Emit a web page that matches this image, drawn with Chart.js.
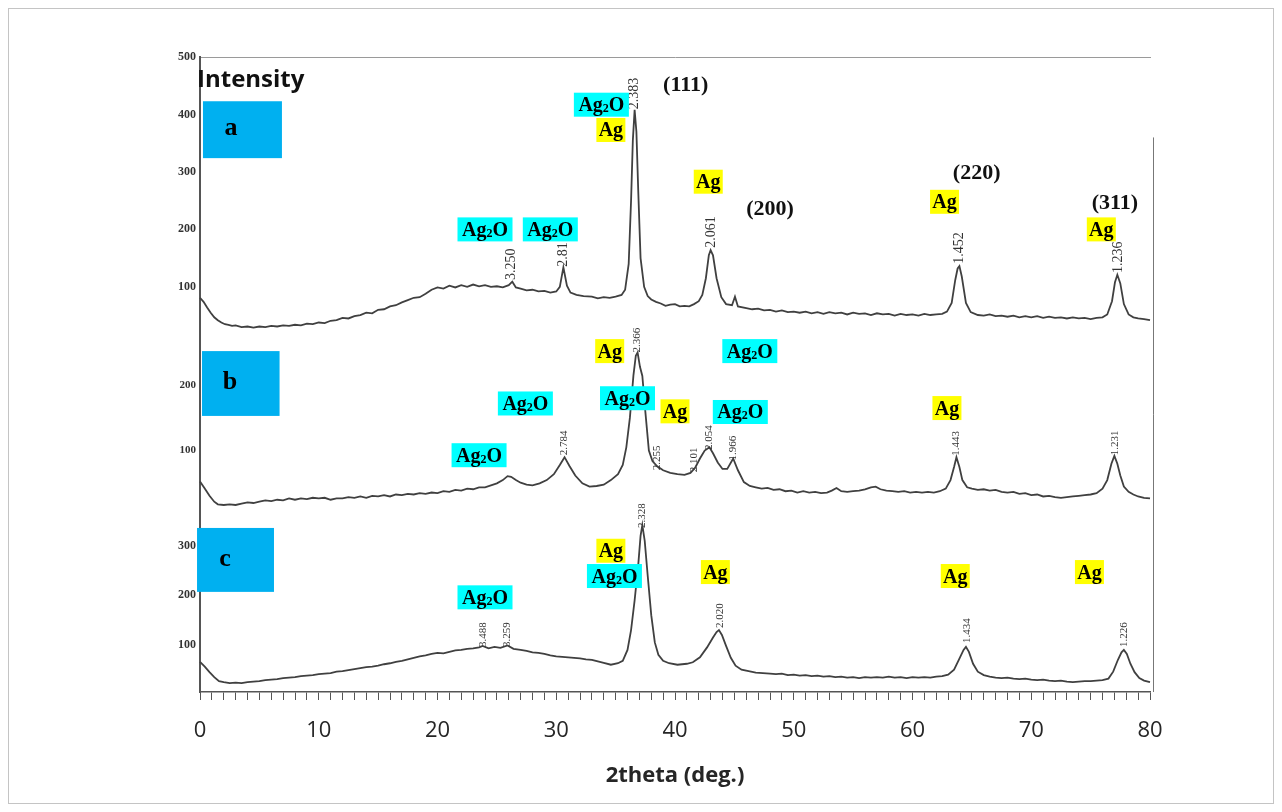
<!DOCTYPE html>
<html>
<head>
<meta charset="utf-8">
<title>XRD patterns a, b, c</title>
<script src="https://cdn.jsdelivr.net/npm/chart.js@4.4.1/dist/chart.umd.min.js"></script>
<style>
  html, body { margin: 0; padding: 0; background: #fff; }
  #wrap { position: relative; width: 1282px; height: 812px; }
</style>
</head>
<body>
<div id="wrap"><canvas id="xrd" width="1282" height="812"></canvas></div>
<script>
// [2theta, counts]
const aPattern = [[0, 81], [0.3, 74], [0.6, 64], [0.9, 55], [1.2, 47], [1.5, 42], [1.8, 38], [2.1, 35], [2.4, 34], [2.7, 32], [3, 33], [3.5, 30], [4, 31], [4.5, 29], [5, 31], [5.5, 30], [6, 32], [6.5, 31], [7, 33], [7.5, 32], [8, 34], [8.5, 33], [9, 36], [9.5, 35], [10, 38], [10.5, 37], [11, 41], [11.5, 42], [12, 46], [12.5, 45], [13, 49], [13.5, 51], [14, 55], [14.5, 54], [15, 60], [15.5, 61], [16, 66], [16.5, 68], [17, 73], [17.5, 77], [18, 81], [18.5, 82], [19, 88], [19.5, 95], [20, 99], [20.5, 97], [21, 102], [21.5, 99], [22, 103], [22.5, 100], [23, 104], [23.5, 101], [24, 103], [24.5, 100], [25, 101], [25.5, 99], [26, 103], [26.3, 109], [26.6, 99], [27, 97], [27.5, 94], [28, 95], [28.5, 92], [29, 93], [29.5, 90], [30, 92], [30.3, 100], [30.6, 134], [30.9, 102], [31.2, 90], [31.7, 86], [32.3, 84], [33, 83], [33.5, 80], [34, 82], [34.5, 81], [35, 83], [35.5, 86], [35.8, 95], [36.1, 140], [36.3, 250], [36.45, 355], [36.6, 408], [36.75, 370], [36.9, 270], [37.1, 150], [37.4, 100], [37.7, 84], [38, 78], [38.4, 74], [38.8, 71], [39.2, 67], [39.6, 69], [40, 70], [40.4, 66], [40.8, 67], [41.2, 66], [41.6, 70], [42, 75], [42.3, 86], [42.6, 115], [42.85, 155], [43.0, 164], [43.2, 155], [43.5, 115], [43.9, 82], [44.3, 70], [44.8, 68], [45.05, 83], [45.3, 66], [46, 63], [46.5, 61], [47, 62], [47.5, 59], [48, 60], [48.5, 57], [49, 59], [49.5, 56], [50, 57], [50.5, 55], [51, 57], [51.5, 54], [52, 56], [52.5, 53], [53, 56], [53.5, 54], [54, 55], [54.5, 52], [55, 55], [55.5, 53], [56, 54], [56.5, 51], [57, 54], [57.5, 52], [58, 53], [58.5, 50], [59, 53], [59.5, 51], [60, 52], [60.5, 50], [61, 53], [61.5, 51], [62, 52], [62.5, 53], [62.9, 57], [63.3, 72], [63.6, 112], [63.8, 132], [63.95, 136], [64.15, 118], [64.5, 72], [64.9, 56], [65.5, 51], [66, 50], [66.5, 52], [67, 49], [67.5, 50], [68, 48], [68.5, 50], [69, 47], [69.5, 49], [70, 47], [70.5, 49], [71, 46], [71.5, 48], [72, 46], [72.5, 47], [73, 45], [73.5, 47], [74, 45], [74.5, 46], [75, 44], [75.5, 46], [76, 47], [76.4, 52], [76.8, 75], [77.05, 108], [77.25, 121], [77.5, 106], [77.8, 70], [78.2, 52], [78.6, 47], [79, 45], [79.5, 44], [80, 42]];

const bPattern = [[0, 53], [0.4, 42], [0.8, 31], [1.2, 22], [1.5, 18], [2, 17], [2.5, 18], [3, 17], [3.5, 19], [4, 21], [4.5, 20], [5, 22], [5.5, 24], [6, 23], [6.5, 25], [7, 24], [7.5, 27], [8, 25], [8.5, 27], [9, 26], [9.5, 28], [10, 27], [10.5, 28], [11, 25], [11.5, 27], [12, 27], [12.5, 29], [13, 28], [13.5, 30], [14, 28], [14.5, 31], [15, 30], [15.5, 32], [16, 30], [16.5, 33], [17, 32], [17.5, 34], [18, 33], [18.5, 35], [19, 34], [19.5, 36], [20, 35], [20.5, 38], [21, 37], [21.5, 40], [22, 39], [22.5, 42], [23, 41], [23.5, 44], [24, 44], [24.5, 47], [25, 50], [25.5, 55], [25.9, 61], [26.2, 60], [26.6, 55], [27, 51], [27.5, 48], [28, 47], [28.6, 50], [29.2, 55], [29.8, 64], [30.3, 78], [30.7, 90], [31.1, 77], [31.6, 62], [32.2, 50], [32.8, 45], [33.4, 46], [34, 48], [34.6, 55], [35.2, 64], [35.6, 78], [35.9, 105], [36.2, 150], [36.5, 215], [36.7, 245], [36.85, 250], [37.05, 228], [37.25, 214], [37.5, 160], [37.8, 100], [38.1, 84], [38.5, 76], [39, 70], [39.6, 66], [40.2, 64], [40.8, 63], [41.3, 66], [41.7, 74], [42.1, 88], [42.5, 100], [42.9, 105], [43.2, 96], [43.6, 82], [44.0, 72], [44.4, 72], [44.9, 88], [45.3, 70], [45.8, 52], [46.3, 46], [46.8, 44], [47.3, 42], [47.8, 43], [48.3, 40], [48.8, 41], [49.3, 38], [49.8, 39], [50.3, 36], [50.8, 38], [51.3, 36], [51.8, 37], [52.3, 35], [52.8, 36], [53.2, 39], [53.6, 43], [54, 38], [54.5, 37], [55, 38], [55.5, 39], [56, 41], [56.5, 44], [56.9, 45], [57.3, 41], [57.8, 39], [58.3, 38], [58.8, 37], [59.3, 38], [59.8, 36], [60.3, 37], [60.8, 36], [61.3, 37], [61.8, 36], [62.3, 38], [62.8, 42], [63.2, 55], [63.5, 75], [63.7, 90], [63.95, 75], [64.2, 55], [64.6, 44], [65, 42], [65.5, 40], [66, 41], [66.5, 39], [67, 40], [67.5, 37], [68, 36], [68.5, 37], [69, 34], [69.5, 35], [70, 32], [70.5, 33], [71, 30], [71.5, 31], [72, 29], [72.5, 28], [73, 29], [73.5, 30], [74, 31], [74.5, 32], [75, 33], [75.5, 35], [76, 42], [76.4, 55], [76.75, 80], [77.0, 92], [77.25, 80], [77.5, 62], [77.8, 45], [78.2, 37], [78.6, 33], [79, 30], [79.5, 28], [80, 27]];

const cPattern = [[0, 66], [0.4, 56], [0.8, 45], [1.2, 35], [1.6, 27], [2, 25], [2.5, 23], [3, 24], [3.5, 23], [4, 25], [4.5, 26], [5, 27], [5.5, 29], [6, 30], [6.5, 31], [7, 33], [7.5, 34], [8, 35], [8.5, 37], [9, 38], [9.5, 39], [10, 41], [10.5, 42], [11, 43], [11.5, 46], [12, 47], [12.5, 49], [13, 51], [13.5, 53], [14, 55], [14.5, 56], [15, 58], [15.5, 61], [16, 63], [16.5, 66], [17, 68], [17.5, 71], [18, 74], [18.5, 77], [19, 79], [19.5, 82], [20, 84], [20.5, 83], [21, 86], [21.5, 89], [22, 90], [22.5, 92], [23, 93], [23.5, 95], [23.8, 98], [24.3, 93], [24.8, 96], [25.3, 94], [25.9, 99], [26.4, 92], [27, 90], [27.5, 88], [28, 85], [28.5, 84], [29, 82], [29.5, 79], [30, 77], [30.5, 76], [31, 75], [31.5, 74], [32, 73], [32.5, 71], [33, 70], [33.5, 67], [34, 64], [34.6, 60], [35.2, 63], [35.6, 68], [36.0, 90], [36.3, 130], [36.6, 190], [36.9, 260], [37.1, 320], [37.25, 342], [37.45, 310], [37.7, 240], [38.0, 160], [38.3, 105], [38.6, 80], [39.0, 68], [39.5, 63], [40.2, 60], [41, 62], [41.5, 65], [42.1, 75], [42.7, 95], [43.2, 115], [43.5, 126], [43.7, 130], [43.95, 120], [44.3, 98], [44.7, 74], [45.1, 58], [45.6, 50], [46.2, 47], [46.8, 44], [47.4, 43], [48, 42], [48.5, 41], [49, 42], [49.5, 39], [50, 40], [50.5, 38], [51, 39], [51.5, 37], [52, 38], [52.5, 36], [53, 37], [53.5, 35], [54, 36], [54.5, 34], [55, 35], [55.5, 33], [56, 35], [56.5, 34], [57, 35], [57.5, 34], [58, 36], [58.5, 34], [59, 35], [59.5, 33], [60, 35], [60.5, 34], [61, 35], [61.5, 34], [62, 36], [62.5, 37], [63, 40], [63.5, 50], [63.9, 70], [64.3, 90], [64.5, 96], [64.75, 86], [65.1, 62], [65.5, 46], [66, 39], [66.5, 36], [67, 34], [67.5, 33], [68, 34], [68.5, 32], [69, 31], [69.5, 32], [70, 30], [70.5, 29], [71, 30], [71.5, 28], [72, 27], [72.5, 28], [73, 26], [73.5, 25], [74, 26], [74.5, 27], [75, 27], [75.5, 28], [76, 29], [76.5, 32], [76.9, 46], [77.3, 70], [77.6, 85], [77.8, 90], [78.05, 82], [78.35, 62], [78.7, 45], [79.1, 33], [79.5, 28], [80, 25]];

// axis ticks / ranges
const aTicks = [100, 200, 300, 400, 500];
const bTicks = [100, 200];
const cTicks = [100, 200, 300];
const xLabelStep = 10;

// phase markers: [text, 2theta, counts]
const aPhases = [['Ag2O', 24.0, 200], ['Ag2O', 29.5, 200], ['Ag2O', 33.8, 417], ['Ag', 34.6, 373], ['Ag', 42.8, 283], ['Ag', 62.7, 248], ['Ag', 75.9, 200]];
const bPhases = [['Ag2O', 27.4, 172], ['Ag2O', 23.5, 93], ['Ag', 34.5, 252], ['Ag2O', 36.0, 180], ['Ag', 40.0, 160], ['Ag2O', 46.3, 252], ['Ag2O', 45.5, 159], ['Ag', 62.9, 165]];
const cPhases = [['Ag2O', 24.0, 196], ['Ag', 34.6, 290], ['Ag2O', 34.9, 239], ['Ag', 43.4, 247], ['Ag', 63.6, 239], ['Ag', 74.9, 247]];

// Miller indices (pattern a)
const hkl = [['(111)', 40.9, 451], ['(200)', 48.0, 235], ['(220)', 65.4, 297], ['(311)', 77.05, 245]];

// d-spacings written at peaks: [text, 2theta, counts at foot of text]
const aSpacings = [['3.250', 26.2, 112], ['2.81', 30.6, 135], ['2.383', 36.6, 409], ['2.061', 43.1, 168], ['1.452', 63.96, 140], ['1.236', 77.3, 124]];
const bSpacings = [['2.784', 30.7, 93], ['2.366', 36.8, 250], ['2.255', 38.5, 70], ['2.101', 41.6, 67], ['2.054', 42.9, 101], ['1.966', 44.9, 85], ['1.443', 63.7, 92], ['1.231', 77.1, 93]];
const cSpacings = [['3.488', 23.8, 96], ['3.259', 25.9, 96], ['2.328', 37.2, 336], ['2.020', 43.8, 134], ['1.434', 64.6, 104], ['1.226', 77.8, 96]];

// sample tags: [letter, x0, x1, topCounts, bottomCounts]
const tagA = ['a', 0.25, 6.9, 423, 324];
const tagB = ['b', 0.17, 6.7, 252, 153];
const tagC = ['c', -0.25, 6.23, 336, 207];

const SERIF = '"Liberation Serif", "DejaVu Serif", serif';
const SANS = '"Open Sans", "Noto Sans", sans-serif';

function toPoints(pairs) {
  return pairs.map(([x, y]) => ({ x: x, y: y }));
}

function drawPhase(ctx, text, cx, cy) {
  const oxide = text === 'Ag2O';
  const w = oxide ? 55 : 29, h = 24;
  ctx.fillStyle = oxide ? '#00FFFF' : '#FFFF00';
  ctx.fillRect(cx - w / 2, cy - h / 2, w, h);
  ctx.fillStyle = '#000';
  ctx.textBaseline = 'alphabetic';
  ctx.textAlign = 'left';
  const base = cy + 6.5;
  const big = 'bold 20px ' + SERIF;
  const small = 'bold 12px ' + SERIF;
  if (oxide) {
    ctx.font = big;
    const wAg = ctx.measureText('Ag').width;
    const wO = ctx.measureText('O').width;
    ctx.font = small;
    const w2 = ctx.measureText('2').width;
    let x = cx - (wAg + w2 + wO) / 2;
    ctx.font = big; ctx.fillText('Ag', x, base); x += wAg;
    ctx.font = small; ctx.fillText('2', x, base + 1); x += w2;
    ctx.font = big; ctx.fillText('O', x, base);
  } else {
    ctx.font = big;
    const wAg = ctx.measureText('Ag').width;
    ctx.fillText('Ag', cx - wAg / 2, base);
  }
}

const annotations = {
  id: 'annotations',
  afterDatasetsDraw(chart) {
    const ctx = chart.ctx;
    const xs = chart.scales.x;
    const area = chart.chartArea;
    const panels = [
      [chart.scales.ya, aPhases, aSpacings, tagA, 14],
      [chart.scales.yb, bPhases, bSpacings, tagB, 11],
      [chart.scales.yc, cPhases, cSpacings, tagC, 11]
    ];
    ctx.save();

    // right-hand frame of the scanned plots
    ctx.strokeStyle = '#777';
    ctx.lineWidth = 1;
    ctx.beginPath();
    ctx.moveTo(area.right + 3.5, chart.scales.ya.getPixelForValue(360));
    ctx.lineTo(area.right + 3.5, area.bottom);
    ctx.stroke();

    for (const [ys, phases, spacings, tag, dFont] of panels) {
      // sample tag box
      const x0 = xs.getPixelForValue(tag[1]), x1 = xs.getPixelForValue(tag[2]);
      const y0 = ys.getPixelForValue(tag[3]), y1 = ys.getPixelForValue(tag[4]);
      ctx.fillStyle = '#00B0F0';
      ctx.fillRect(x0, y0, x1 - x0, y1 - y0);
      ctx.fillStyle = '#000';
      ctx.font = 'bold 26px ' + SERIF;
      ctx.textAlign = 'center';
      ctx.textBaseline = 'middle';
      ctx.fillText(tag[0], x0 + 28, (y0 + y1) / 2 - 1);

      // d-spacings, rotated
      ctx.fillStyle = '#333';
      ctx.font = dFont + 'px ' + SERIF;
      for (const [t, th, c] of spacings) {
        ctx.save();
        ctx.translate(xs.getPixelForValue(th), ys.getPixelForValue(c));
        ctx.rotate(-Math.PI / 2);
        ctx.textAlign = 'left';
        ctx.textBaseline = 'middle';
        ctx.fillText(t, 0, 0);
        ctx.restore();
      }

      for (const [t, th, c] of phases) {
        drawPhase(ctx, t, xs.getPixelForValue(th), ys.getPixelForValue(c));
      }
    }

    // Miller indices
    ctx.fillStyle = '#111';
    ctx.font = 'bold 22px ' + SERIF;
    ctx.textAlign = 'center';
    ctx.textBaseline = 'middle';
    for (const [t, th, c] of hkl) {
      ctx.fillText(t, xs.getPixelForValue(th), chart.scales.ya.getPixelForValue(c));
    }

    // y-axis caption, its "I" sits on the axis line as in the scan
    ctx.fillStyle = '#111';
    ctx.font = 'bold 24px ' + SANS;
    ctx.textAlign = 'left';
    ctx.textBaseline = 'alphabetic';
    ctx.fillText('Intensity', xs.getPixelForValue(0) - 3, chart.scales.ya.getPixelForValue(448));

    // outer frame
    ctx.strokeStyle = '#c4c4c4';
    ctx.lineWidth = 1;
    ctx.strokeRect(8.5, 8.5, chart.width - 17, chart.height - 17);
    ctx.restore();
  }
};

const traceStyle = { borderColor: '#404040', borderWidth: 1.8, pointRadius: 0, tension: 0, fill: false, clip: false };

function yScale(min, max, ticks, weight, stackWeight, fontSize) {
  return {
    type: 'linear',
    position: 'left',
    stack: 'xrd',
    stackWeight: stackWeight,
    weight: weight,
    min: min,
    max: max,
    afterBuildTicks: s => { s.ticks = ticks.map(v => ({ value: v })); },
    afterFit: s => { s.width = 40; },
    grid: { display: false, drawTicks: false },
    border: { display: true, color: '#555', width: 2 },
    ticks: { color: '#333', padding: 4, font: { family: SERIF, size: fontSize, weight: 'bold' } }
  };
}

new Chart(document.getElementById('xrd'), {
  type: 'line',
  data: {
    datasets: [
      Object.assign({ label: 'a', data: toPoints(aPattern), yAxisID: 'ya' }, traceStyle),
      Object.assign({ label: 'b', data: toPoints(bPattern), yAxisID: 'yb' }, traceStyle),
      Object.assign({ label: 'c', data: toPoints(cPattern), yAxisID: 'yc' }, traceStyle)
    ]
  },
  options: {
    responsive: false,
    devicePixelRatio: 1,
    animation: false,
    layout: { padding: { left: 160, right: 132, top: 57, bottom: 0 } },
    scales: {
      x: {
        type: 'linear',
        position: 'bottom',
        min: 0,
        max: 80,
        afterFit: s => { s.height = 120; },
        grid: { drawOnChartArea: false, drawTicks: true, tickLength: 8, color: '#555', lineWidth: 1 },
        border: { display: true, color: '#555', width: 1.5 },
        ticks: {
          stepSize: 1,
          maxTicksLimit: 200,
          autoSkip: false,
          maxRotation: 0,
          padding: 18,
          color: '#262626',
          font: { family: SANS, size: 22 },
          callback: v => (v % xLabelStep === 0 ? String(v) : '')
        },
        title: {
          display: true,
          text: '2theta (deg.)',
          color: '#262626',
          font: { family: SANS, size: 22, weight: 'bold' },
          padding: { top: 4, bottom: 23 }
        }
      },
      xt: {
        type: 'linear',
        position: 'top',
        min: 0,
        max: 80,
        afterFit: s => { s.height = 0; },
        grid: { display: false, drawTicks: false },
        border: { display: true, color: '#9a9a9a', width: 1, dash: [2, 2] },
        ticks: { display: false }
      },
      ya: yScale(11, 500, aTicks, 3, 281, 12),
      yb: yScale(-9, 272, bTicks, 2, 184, 11),
      yc: yScale(5, 348, cTicks, 1, 170, 12)
    },
    plugins: {
      legend: { display: false },
      tooltip: { enabled: false }
    }
  },
  plugins: [annotations]
});
</script>
</body>
</html>
